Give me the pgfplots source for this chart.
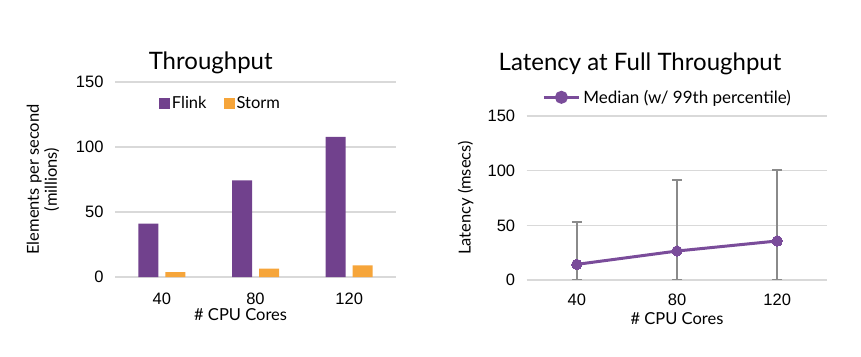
\documentclass[border=0pt]{standalone}
\usepackage{fontspec}
\setmainfont{Lato}
\newfontfamily\arialf{Liberation Sans}
\usepackage{pgfplots}
\pgfplotsset{compat=1.18}
\definecolor{flink}{HTML}{71418D}
\definecolor{storm}{HTML}{F6A53A}
\definecolor{linep}{HTML}{7A4C9A}
\definecolor{gridc}{HTML}{D9D9D9}
\definecolor{errc}{HTML}{8A8A8A}
\begin{document}
\begin{tikzpicture}
\path[use as bounding box] (0pt,0pt) rectangle (861pt,356pt);
\pgfplotsset{
  common/.style={
    scale only axis, anchor=south west,
    xmin=-0.5, xmax=2.5, xtick={0,1,2}, xticklabels={40,80,120},
    ymin=0, ymax=150, ytick={0,50,100,150},
    ymajorgrids, grid style={gridc, line width=1.3pt},
    axis line style={draw=none}, tick style={draw=none},
    /pgf/number format/assume math mode=true,
    tick label style={font=\arialf\fontsize{16.5}{19}\selectfont},
    label style={font=\fontsize{16.5}{18}\selectfont},
    clip=false,
  }
}
\begin{axis}[common, at={(115pt,79pt)}, width=281pt, height=195pt,
  ybar=7pt, bar width=20pt,
  yticklabel style={xshift=-8pt},
  xticklabel style={yshift=-8pt},
  xlabel={\# CPU Cores},
  xlabel style={at={(axis description cs:0.447,0)}, anchor=center, yshift=-38pt},
  ylabel={Elements per second\\(millions)},
  ylabel style={align=center, at={(axis description cs:-0.256,0.5)}, anchor=center},
  legend columns=2,
  legend style={draw=none, fill=none, at={(axis description cs:0.145,0.892)}, anchor=west,
    font=\fontsize{16.5}{18}\selectfont, /tikz/every even column/.append style={column sep=15pt}},
  legend image code/.code={\fill[#1] (0pt,-5.5pt) rectangle (11pt,5.5pt);},
]
\addplot[fill=flink, draw=none] coordinates {(0,41) (1,74.4) (2,107.7)};
\addplot[fill=storm, draw=none] coordinates {(0,3.8) (1,6.4) (2,9)};
\legend{Flink, Storm}
\end{axis}
\begin{axis}[common, at={(526.7pt,76pt)}, width=300.6pt, height=164pt,
  yticklabel style={xshift=-8pt},
  xticklabel style={yshift=-10pt},
  xlabel={\# CPU Cores},
  xlabel style={at={(axis description cs:0.5,0)}, anchor=center, yshift=-39pt},
  ylabel={Latency (msecs)},
  ylabel style={at={(axis description cs:-0.203,0.5)}, anchor=center},
  legend style={draw=none, fill=none, at={(axis description cs:0.045,1.114)}, anchor=west,
    font=\fontsize{17}{19}\selectfont, inner xsep=2pt,
    /tikz/every odd column/.append style={column sep=1pt}},
  legend image code/.code={\draw[linep, line width=3pt] (0pt,0pt) -- (35pt,0pt); \fill[linep] (17.5pt,0pt) circle (5pt);},
]
\addplot[linep, line width=3pt, mark=*, mark size=5.2pt, mark options={fill=linep, draw=linep, line width=0pt},
  error bars/.cd, y dir=both, y explicit,
  error bar style={errc, line width=1.8pt},
  error mark options={rotate=90, mark size=5pt, errc, line width=1.8pt}]
  coordinates {(0,14.3) += (0,39.1) -= (0,13.8)
               (1,26.5) += (0,65) -= (0,26)
               (2,35.7) += (0,64.9) -= (0,35.2)};
\addlegendentry{Median (w/ 99th percentile)}
\end{axis}
\node[font=\fontsize{24}{26}\selectfont] at (210.7pt,293pt) {Throughput};
\node[font=\fontsize{24}{26}\selectfont] at (640pt,292pt) {Latency at Full Throughput};
\end{tikzpicture}
\end{document}
